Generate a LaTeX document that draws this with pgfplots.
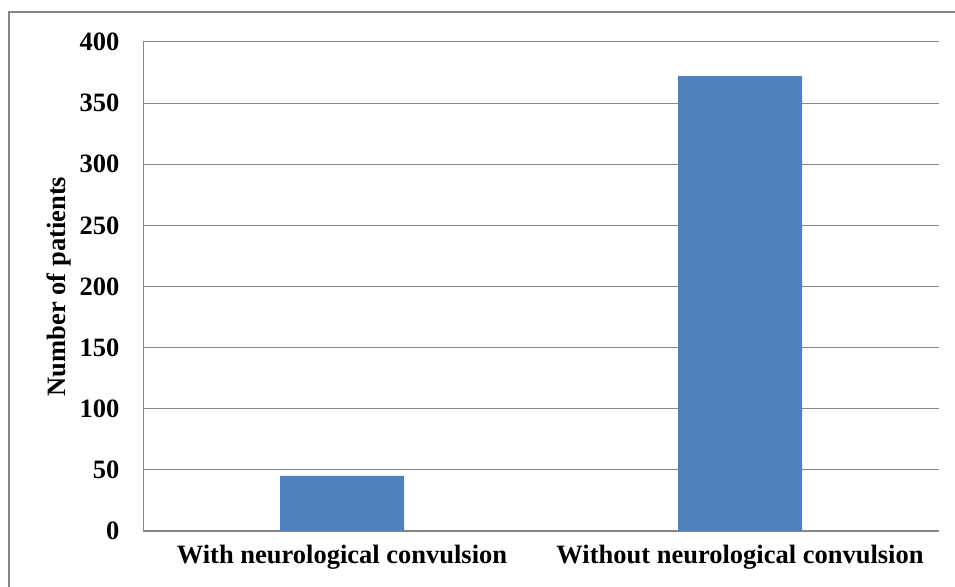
\documentclass[border=0pt]{standalone}
\usepackage{pgfplots}
\pgfplotsset{compat=1.18}
\usepackage{fontspec}
\setmainfont{Liberation Serif}
\definecolor{barblue}{HTML}{4F81BD}
\definecolor{gridgray}{HTML}{868686}
\begin{document}
\begin{tikzpicture}[x=1pt,y=1pt]
\useasboundingbox (0,0) rectangle (955,586);
\draw[gridgray, line width=1.2pt] (9,-5) -- (9,574) -- (960,574);
\begin{axis}[
  at={(143pt,55pt)}, anchor=south west,
  scale only axis, width=796pt, height=489pt,
  xmin=-0.5, xmax=1.5, ymin=0, ymax=400,
  xtick={0,1},
  xticklabels={With neurological convulsion, Without neurological convulsion},
  ytick={0,50,...,400},
  major tick length=0pt,
  axis x line=bottom, axis y line=left,
  axis line style={-, gridgray, line width=1pt},
  ymajorgrids, grid style={gridgray, line width=1pt},
  font=\fontsize{26.5}{30}\selectfont\bfseries,
  /pgf/number format/assume math mode=true,
  ticklabel style={font=\fontsize{26.5}{30}\selectfont\bfseries},
  yticklabel style={xshift=-20pt},
  xticklabel style={yshift=-11pt},
  ylabel={Number of patients},
  every axis y label/.style={at={(axis description cs:-0.1055,0.5)}, rotate=90, anchor=center, font=\fontsize{26.5}{30}\selectfont\bfseries},
  ybar, bar width=124pt,
  clip=false,
]
\addplot[fill=barblue, draw=none] coordinates {(0,45) (1,372)};
\end{axis}
\end{tikzpicture}
\end{document}
